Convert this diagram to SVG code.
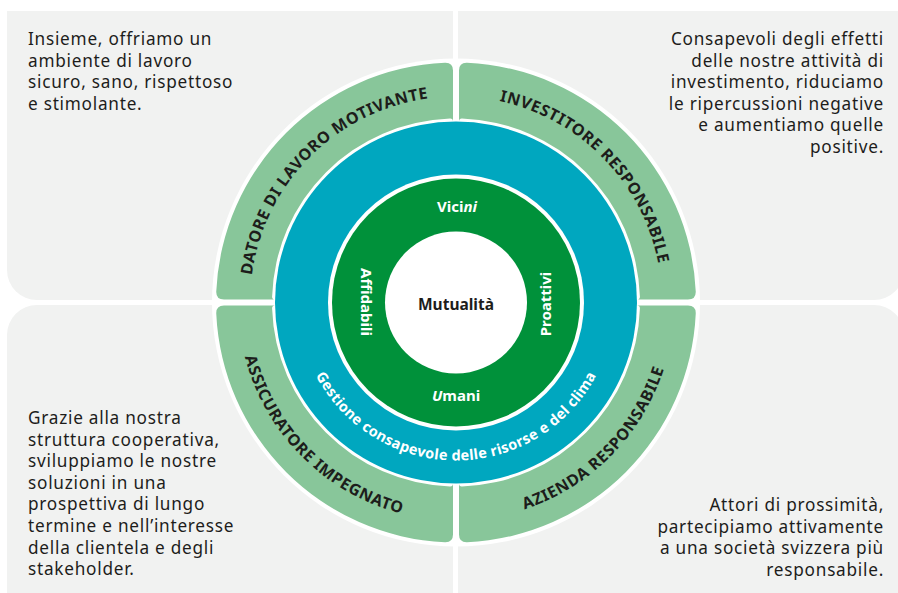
<svg xmlns="http://www.w3.org/2000/svg" xmlns:xlink="http://www.w3.org/1999/xlink" width="898" height="593" viewBox="0 0 898 593">
  <defs>
    <style>
      .panel { fill: #F1F2F1; }
      .body { font-family: "Noto Sans", "Open Sans", sans-serif; font-size: 17.2px; letter-spacing: 0.75px; fill: #1D1D1B; }
      .ring { font-family: "Noto Sans", "Open Sans", sans-serif; font-size: 16px; font-weight: 700; letter-spacing: 0.6px; fill: #1D1D1B; }
      .blue-t { font-family: "Noto Sans", "Open Sans", sans-serif; font-size: 14.5px; font-weight: 700; letter-spacing: 0.3px; fill: #FFFFFF; }
      .val { font-family: "Noto Sans", "Open Sans", sans-serif; font-size: 15px; font-weight: 700; fill: #FFFFFF; text-anchor: middle; }
      .seg { fill: #88C69A; }
    </style>
    <path id="segTL" d="M-232,-3 Q-240,-3 -239.75,-11 A240,240 0 0 1 -11,-239.75 Q-3,-240 -3,-232 L-3,-181 Q-3,-184 -6,-183.9 A184,184 0 0 0 -183.9,-6 Q-184,-3 -181,-3 Z"/>
    <path id="cwOuter" d="M456,508.5 A206,206 0 1 1 456,96.5 A206,206 0 1 1 456,508.5"/>
    <path id="ccwOuter" d="M456,84.5 A218,218 0 1 0 456,520.5 A218,218 0 1 0 456,84.5"/>
    <path id="ccwBlue" d="M456,144.5 A158,158 0 1 0 456,460.5 A158,158 0 1 0 456,144.5"/>
  </defs>

  <rect width="898" height="593" fill="#FFFFFF"/>

  <g id="panel-top-left">
    <path class="panel" d="M7,11 H453 V300 H37 A30,30 0 0 1 7,270 Z"/>
    <text class="body" x="28" y="45">Insieme, offriamo un</text>
    <text class="body" x="28" y="66.6">ambiente di lavoro</text>
    <text class="body" x="28" y="88.2">sicuro, sano, rispettoso</text>
    <text class="body" x="28" y="109.8">e stimolante.</text>
  </g>

  <g id="panel-top-right">
    <path class="panel" d="M458,11 H904 V270 A30,30 0 0 1 874,300 H458 Z"/>
    <g text-anchor="end">
      <text class="body" x="884" y="45">Consapevoli degli effetti</text>
      <text class="body" x="884" y="66.6">delle nostre attività di</text>
      <text class="body" x="884" y="88.2">investimento, riduciamo</text>
      <text class="body" x="884" y="109.8">le ripercussioni negative</text>
      <text class="body" x="884" y="131.4">e aumentiamo quelle</text>
      <text class="body" x="884" y="153">positive.</text>
    </g>
  </g>

  <g id="panel-bottom-left">
    <path class="panel" d="M7,335 A30,30 0 0 1 37,305 H453 V593 H7 Z"/>
    <text class="body" x="28" y="424">Grazie alla nostra</text>
    <text class="body" x="28" y="445.6">struttura cooperativa,</text>
    <text class="body" x="28" y="467.2">sviluppiamo le nostre</text>
    <text class="body" x="28" y="488.8">soluzioni in una</text>
    <text class="body" x="28" y="510.4">prospettiva di lungo</text>
    <text class="body" x="28" y="532">termine e nell’interesse</text>
    <text class="body" x="28" y="553.6">della clientela e degli</text>
    <text class="body" x="28" y="575.2">stakeholder.</text>
  </g>

  <g id="panel-bottom-right">
    <path class="panel" d="M458,305 H874 A30,30 0 0 1 904,335 V593 H458 Z"/>
    <g text-anchor="end">
      <text class="body" x="884" y="511">Attori di prossimità,</text>
      <text class="body" x="884" y="532.6">partecipiamo attivamente</text>
      <text class="body" x="884" y="554.2">a una società svizzera più</text>
      <text class="body" x="884" y="575.8">responsabile.</text>
    </g>
  </g>

  <circle id="ring-backdrop" cx="456" cy="302.5" r="244" fill="#FFFFFF"/>

  <g id="seg-datore">
    <use href="#segTL" class="seg" transform="translate(456,302.5)"/>
    <text class="ring" text-anchor="middle"><textPath href="#cwOuter" startOffset="37.5%">DATORE DI LAVORO MOTIVANTE</textPath></text>
  </g>
  <g id="seg-investitore">
    <use href="#segTL" class="seg" transform="translate(456,302.5) scale(-1,1)"/>
    <text class="ring" text-anchor="middle"><textPath href="#cwOuter" startOffset="62.7%">INVESTITORE RESPONSABILE</textPath></text>
  </g>
  <g id="seg-assicuratore">
    <use href="#segTL" class="seg" transform="translate(456,302.5) scale(1,-1)"/>
    <text class="ring" text-anchor="middle"><textPath href="#ccwOuter" startOffset="37.5%">ASSICURATORE IMPEGNATO</textPath></text>
  </g>
  <g id="seg-azienda">
    <use href="#segTL" class="seg" transform="translate(456,302.5) scale(-1,-1)"/>
    <text class="ring" text-anchor="middle"><textPath href="#ccwOuter" startOffset="62.6%">AZIENDA RESPONSABILE</textPath></text>
  </g>

  <g id="ring-gestione">
    <circle cx="456" cy="302.5" r="181" fill="#00A7BF"/>
    <circle cx="456" cy="302.5" r="128" fill="#FFFFFF"/>
    <text class="blue-t" text-anchor="middle"><textPath href="#ccwBlue" startOffset="50%">Gestione consapevole delle risorse e del clima</textPath></text>
  </g>

  <g id="ring-valori">
    <circle cx="456" cy="302.5" r="124" fill="#00913A"/>
    <text class="val" x="457" y="212">Vici<tspan font-style="italic">ni</tspan></text>
    <text class="val" x="456" y="401"><tspan font-style="italic">U</tspan>mani</text>
    <text class="val" transform="translate(361,302) rotate(90)" x="0" y="0">Affidabili</text>
    <text class="val" transform="translate(551,304) rotate(-90)" x="0" y="0">Proattivi</text>
  </g>

  <g id="node-mutualita">
    <circle cx="456" cy="302.5" r="71" fill="#FFFFFF"/>
    <text x="456" y="309.5" text-anchor="middle" font-family="Noto Sans, Open Sans, sans-serif" font-size="15.5" font-weight="700" fill="#1D1D1B">Mutualità</text>
  </g>

  <g id="connectors"/>
</svg>
